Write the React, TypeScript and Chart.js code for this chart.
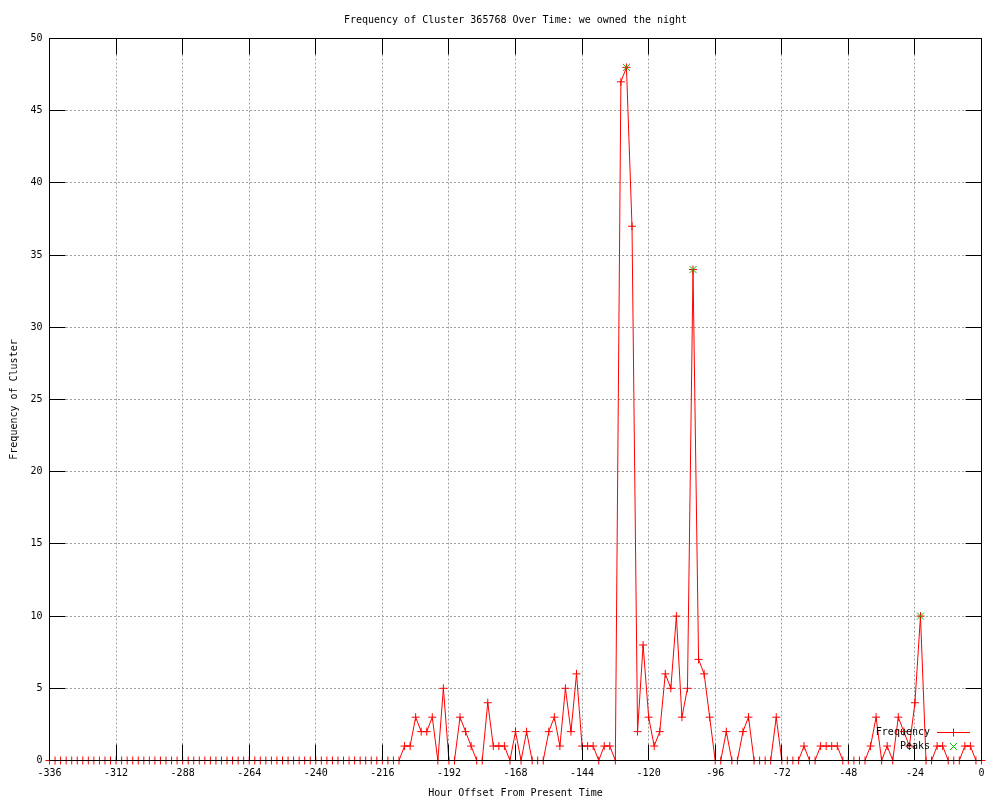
import React, { useEffect, useRef } from 'react';
import { Chart, registerables } from 'chart.js';

Chart.register(...registerables);

const FONT = "'DejaVu Sans Mono', 'Liberation Mono', monospace";

const TITLE = 'Frequency of Cluster 365768 Over Time: we owned the night';
const X_TITLE = 'Hour Offset From Present Time';
const Y_TITLE = 'Frequency of Cluster';

const hours = [
  -336, -334, -332, -330, -328, -326, -324, -322, -320, -318, -316, -314, -312, -310, -308, -306,
  -304, -302, -300, -298, -296, -294, -292, -290, -288, -286, -284, -282, -280, -278, -276, -274,
  -272, -270, -268, -266, -264, -262, -260, -258, -256, -254, -252, -250, -248, -246, -244, -242,
  -240, -238, -236, -234, -232, -230, -228, -226, -224, -222, -220, -218, -216, -214, -212, -210,
  -208, -206, -204, -202, -200, -198, -196, -194, -192, -190, -188, -186, -184, -182, -180, -178,
  -176, -174, -172, -170, -168, -166, -164, -162, -160, -158, -156, -154, -152, -150, -148, -146,
  -144, -142, -140, -138, -136, -134, -132, -130, -128, -126, -124, -122, -120, -118, -116, -114,
  -112, -110, -108, -106, -104, -102, -100, -98, -96, -94, -92, -90, -88, -86, -84, -82,
  -80, -78, -76, -74, -72, -70, -68, -66, -64, -62, -60, -58, -56, -54, -52, -50,
  -48, -46, -44, -42, -40, -38, -36, -34, -32, -30, -28, -26, -24, -22, -20, -18,
  -16, -14, -12, -10, -8, -6, -4, -2, 0,
];

const frequency = [
  0, 0, 0, 0, 0, 0, 0, 0, 0, 0, 0, 0, 0, 0, 0, 0,
  0, 0, 0, 0, 0, 0, 0, 0, 0, 0, 0, 0, 0, 0, 0, 0,
  0, 0, 0, 0, 0, 0, 0, 0, 0, 0, 0, 0, 0, 0, 0, 0,
  0, 0, 0, 0, 0, 0, 0, 0, 0, 0, 0, 0, 0, 0, 0, 0,
  1, 1, 3, 2, 2, 3,
  0, 5, 0, 0, 3, 2, 1, 0, 0, 4,
  1, 1, 1, 0, 2, 0, 2, 0, 0, 0,
  2, 3, 1, 5, 2, 6, 1, 1, 1, 0,
  1, 1, 0, 47, 48, 37, 2, 8, 3, 1,
  2, 6, 5, 10, 3, 5, 34, 7, 6, 3,
  0, 0, 2, 0, 0, 2, 3, 0, 0, 0,
  0, 3, 0, 0, 0, 0, 1, 0, 0, 1,
  1, 1, 1, 0, 0, 0, 0, 0, 1, 3,
  0, 1, 0, 3, 2, 1, 4, 10, 0, 0,
  1, 1, 0, 0, 0, 1, 1, 0, 0,
];

const peakHours = [-128, -104, -22];
const peakValues = [48, 34, 10];

const RED = '#ff0000';
const GREEN = '#00c000';

const titlePlugin = {
  id: 'gnuTitle',
  afterDraw(chart: any) {
    const { ctx, chartArea } = chart;
    ctx.save();
    ctx.font = `10px ${FONT}`;
    ctx.fillStyle = '#000';
    ctx.textAlign = 'center';
    ctx.textBaseline = 'middle';
    ctx.fillText(TITLE, (chartArea.left + chartArea.right) / 2, 20);
    ctx.restore();
  },
};

const framePlugin = {
  id: 'gnuFrame',
  afterDatasetsDraw(chart: any) {
    const { ctx, chartArea } = chart;
    const { left, top, right, bottom } = chartArea;
    const xs = chart.scales.x;
    const ys = chart.scales.y;
    const L = 16;
    ctx.save();
    ctx.strokeStyle = '#000';
    ctx.lineWidth = 1;
    ctx.beginPath();
    xs.ticks.forEach((t: any) => {
      const px = Math.floor(xs.getPixelForValue(t.value)) + 0.5;
      ctx.moveTo(px, bottom);
      ctx.lineTo(px, bottom - L);
      ctx.moveTo(px, top);
      ctx.lineTo(px, top + L);
    });
    ys.ticks.forEach((t: any) => {
      const py = Math.floor(ys.getPixelForValue(t.value)) + 0.5;
      ctx.moveTo(left, py);
      ctx.lineTo(left + L, py);
      ctx.moveTo(right, py);
      ctx.lineTo(right - L, py);
    });
    ctx.stroke();
    ctx.strokeRect(left, top, right - left, bottom - top);
    ctx.restore();
  },
};

const keyPlugin = {
  id: 'gnuKey',
  afterDraw(chart: any) {
    const { ctx } = chart;
    const datasets = chart.data.datasets;
    const textRight = 930;
    const sampleL = 937;
    const sampleR = 970;
    const markX = 953.5;
    const rows = [732.5, 746.5];
    ctx.save();
    ctx.font = `10px ${FONT}`;
    ctx.textAlign = 'right';
    ctx.textBaseline = 'middle';
    datasets.forEach((ds: any, i: number) => {
      const y = rows[i];
      ctx.fillStyle = '#000';
      ctx.fillText(ds.label, textRight, y);
      const color = ds.pointBorderColor;
      ctx.strokeStyle = color;
      ctx.lineWidth = 1;
      ctx.beginPath();
      if (ds.showLine !== false) {
        ctx.moveTo(sampleL, y);
        ctx.lineTo(sampleR, y);
      }
      if (ds.pointStyle === 'cross') {
        const r = ds.pointRadius;
        ctx.moveTo(markX - r, y);
        ctx.lineTo(markX + r, y);
        ctx.moveTo(markX, y - r);
        ctx.lineTo(markX, y + r);
      } else {
        const r = ds.pointRadius * Math.SQRT1_2;
        ctx.moveTo(markX - r, y - r);
        ctx.lineTo(markX + r, y + r);
        ctx.moveTo(markX - r, y + r);
        ctx.lineTo(markX + r, y - r);
      }
      ctx.stroke();
    });
    ctx.restore();
  },
};

export default function App() {
  const ref = useRef<HTMLCanvasElement>(null);

  useEffect(() => {
    const canvas = ref.current;
    if (!canvas) return;
    const font = { family: FONT, size: 10 };
    const chart = new Chart(canvas, {
      type: 'line',
      data: {
        datasets: [
          {
            label: 'Frequency',
            data: hours.map((h, i) => ({ x: h, y: frequency[i] })),
            borderColor: RED,
            borderWidth: 1,
            tension: 0,
            pointStyle: 'cross',
            pointRadius: 4,
            pointBorderWidth: 1,
            pointBorderColor: RED,
            pointBackgroundColor: RED,
            pointHoverRadius: 4,
            fill: false,
            clip: false,
            order: 1,
          } as any,
          {
            label: 'Peaks',
            data: peakHours.map((h, i) => ({ x: h, y: peakValues[i] })),
            showLine: false,
            borderColor: GREEN,
            pointStyle: 'crossRot',
            pointRadius: 5,
            pointBorderWidth: 1,
            pointBorderColor: GREEN,
            pointBackgroundColor: GREEN,
            pointHoverRadius: 5,
            clip: false,
            order: 0,
          } as any,
        ],
      },
      options: {
        responsive: false,
        maintainAspectRatio: false,
        devicePixelRatio: 1,
        animation: false,
        events: [],
        layout: { padding: { top: 38.5, right: 18.5, left: 0, bottom: 0 } },
        plugins: {
          legend: { display: false },
          title: { display: false },
          tooltip: { enabled: false },
        },
        scales: {
          x: {
            type: 'linear',
            min: -336,
            max: 0,
            afterFit: (s: any) => {
              s.height = 39.5;
            },
            ticks: {
              stepSize: 24,
              autoSkip: false,
              maxRotation: 0,
              padding: 7,
              color: '#000',
              font,
              callback: (v: any) => String(v),
            },
            grid: { color: '#a0a0a0', lineWidth: 1, drawTicks: false },
            border: { display: false, dash: [2, 2] },
            title: {
              display: true,
              text: X_TITLE,
              color: '#000',
              font,
              padding: { top: 0, bottom: 1 },
            },
          },
          y: {
            type: 'linear',
            min: 0,
            max: 50,
            afterFit: (s: any) => {
              s.width = 49.5;
            },
            ticks: {
              stepSize: 5,
              padding: 7,
              color: '#000',
              font,
            },
            grid: { color: '#a0a0a0', lineWidth: 1, drawTicks: false },
            border: { display: false, dash: [2, 2] },
            title: {
              display: true,
              text: Y_TITLE,
              color: '#000',
              font,
              padding: { top: 8, bottom: 0 },
            },
          },
        },
      } as any,
      plugins: [framePlugin, titlePlugin, keyPlugin],
    });
    return () => chart.destroy();
  }, []);

  return (
    <div
      style={{
        position: 'fixed',
        left: 0,
        top: 0,
        width: 1000,
        height: 800,
        background: '#ffffff',
      }}
    >
      <canvas ref={ref} width={1000} height={800} style={{ display: 'block', width: 1000, height: 800 }} />
    </div>
  );
}
